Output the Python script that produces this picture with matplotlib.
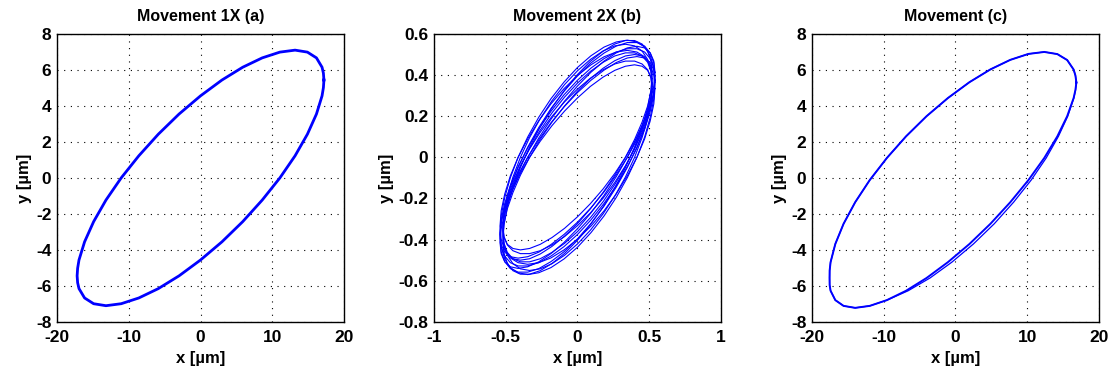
import numpy as np
import matplotlib
matplotlib.use("Agg")
import matplotlib.pyplot as plt

plt.rcParams["font.family"] = ["Liberation Sans", "DejaVu Sans"]
plt.rcParams["font.weight"] = "bold"

# ---- (a) Movement 1X : orbit points [um] ----
xa = [17.20, 17.13, 16.94, 16.16, 14.90, 13.18, 11.06, 8.60, 5.88, 2.99, 0.00,
      -2.99, -5.88, -8.60, -11.06, -13.18, -14.90, -16.16, -16.94, -17.13,
      -17.20, -17.13, -16.94, -16.16, -14.90, -13.18, -11.06, -8.60, -5.88, -2.99, 0.00,
      2.99, 5.88, 8.60, 11.06, 13.18, 14.90, 16.16, 16.94, 17.13]
ya = [5.44, 5.82, 6.15, 6.67, 6.99, 7.10, 6.99, 6.67, 6.15, 5.44, 4.56,
      3.55, 2.43, 1.23, 0.00, -1.23, -2.43, -3.55, -4.56, -5.02,
      -5.44, -5.82, -6.15, -6.67, -6.99, -7.10, -6.99, -6.67, -6.15, -5.44, -4.56,
      -3.55, -2.43, -1.23, 0.00, 1.23, 2.43, 3.55, 4.56, 5.02]

# ---- (b) Movement 2X : several revolutions [um] ----
xb_wide = [0.540, 0.532, 0.507, 0.468, 0.414, 0.347, 0.270, 0.185, 0.094, 0.000,
           -0.094, -0.185, -0.270, -0.347, -0.414, -0.468, -0.507, -0.532,
           -0.540, -0.532, -0.507, -0.468, -0.414, -0.347, -0.270, -0.185, -0.094, 0.000,
           0.094, 0.185, 0.270, 0.347, 0.414, 0.468, 0.507, 0.532]
xb_narrow = [0.520, 0.512, 0.489, 0.450, 0.398, 0.334, 0.260, 0.178, 0.090, 0.000,
             -0.090, -0.178, -0.260, -0.334, -0.398, -0.450, -0.489, -0.512,
             -0.520, -0.512, -0.489, -0.450, -0.398, -0.334, -0.260, -0.178, -0.090, 0.000,
             0.090, 0.178, 0.260, 0.334, 0.398, 0.450, 0.489, 0.512]
yb1 = [0.366, 0.437, 0.494, 0.536, 0.561, 0.570, 0.561, 0.536, 0.494, 0.437,
       0.366, 0.285, 0.195, 0.099, 0.000, -0.099, -0.195, -0.285,
       -0.366, -0.437, -0.494, -0.536, -0.561, -0.570, -0.561, -0.536, -0.494, -0.437,
       -0.366, -0.285, -0.195, -0.099, 0.000, 0.099, 0.195, 0.285]
yb2 = [0.396, 0.459, 0.507, 0.541, 0.558, 0.558, 0.541, 0.507, 0.459, 0.396,
       0.321, 0.237, 0.145, 0.049, -0.049, -0.145, -0.237, -0.321,
       -0.396, -0.459, -0.507, -0.541, -0.558, -0.558, -0.541, -0.507, -0.459, -0.396,
       -0.321, -0.237, -0.145, -0.049, 0.049, 0.145, 0.237, 0.321]
yb3 = [0.354, 0.421, 0.476, 0.517, 0.542, 0.550, 0.542, 0.517, 0.476, 0.421,
       0.354, 0.275, 0.188, 0.096, 0.000, -0.096, -0.188, -0.275,
       -0.354, -0.421, -0.476, -0.517, -0.542, -0.550, -0.542, -0.517, -0.476, -0.421,
       -0.354, -0.275, -0.188, -0.096, 0.000, 0.096, 0.188, 0.275]
yb4 = [0.375, 0.434, 0.480, 0.512, 0.528, 0.528, 0.512, 0.480, 0.434, 0.375,
       0.304, 0.224, 0.137, 0.046, -0.046, -0.137, -0.224, -0.304,
       -0.375, -0.434, -0.480, -0.512, -0.528, -0.528, -0.512, -0.480, -0.434, -0.375,
       -0.304, -0.224, -0.137, -0.046, 0.046, 0.137, 0.224, 0.304]
yb5 = [0.361, 0.418, 0.462, 0.493, 0.508, 0.508, 0.493, 0.462, 0.418, 0.361,
       0.293, 0.216, 0.132, 0.044, -0.044, -0.132, -0.216, -0.293,
       -0.361, -0.418, -0.462, -0.493, -0.508, -0.508, -0.493, -0.462, -0.418, -0.361,
       -0.293, -0.216, -0.132, -0.044, 0.044, 0.132, 0.216, 0.293]
yb6 = [0.375, 0.424, 0.461, 0.483, 0.490, 0.483, 0.461, 0.424, 0.375, 0.315,
       0.245, 0.168, 0.085, 0.000, -0.085, -0.168, -0.245, -0.315,
       -0.375, -0.424, -0.461, -0.483, -0.490, -0.483, -0.461, -0.424, -0.375, -0.315,
       -0.245, -0.168, -0.085, 0.000, 0.085, 0.168, 0.245, 0.315]
yb7 = [0.332, 0.385, 0.426, 0.454, 0.468, 0.468, 0.454, 0.426, 0.385, 0.332,
       0.270, 0.199, 0.122, 0.041, -0.041, -0.122, -0.199, -0.270,
       -0.332, -0.385, -0.426, -0.454, -0.468, -0.468, -0.454, -0.426, -0.385, -0.332,
       -0.270, -0.199, -0.122, -0.041, 0.041, 0.122, 0.199, 0.270]
yb8 = [0.345, 0.390, 0.423, 0.443, 0.450, 0.443, 0.423, 0.390, 0.345, 0.289,
       0.225, 0.154, 0.078, 0.000, -0.078, -0.154, -0.225, -0.289,
       -0.345, -0.390, -0.423, -0.443, -0.450, -0.443, -0.423, -0.390, -0.345, -0.289,
       -0.225, -0.154, -0.078, 0.000, 0.078, 0.154, 0.225, 0.289]
yb9 = [0.403, 0.467, 0.516, 0.551, 0.568, 0.568, 0.551, 0.516, 0.467, 0.403,
       0.327, 0.241, 0.148, 0.050, -0.050, -0.148, -0.241, -0.327,
       -0.403, -0.467, -0.516, -0.551, -0.568, -0.568, -0.551, -0.516, -0.467, -0.403,
       -0.327, -0.241, -0.148, -0.050, 0.050, 0.148, 0.241, 0.327]
yb10 = [0.414, 0.468, 0.508, 0.532, 0.540, 0.532, 0.508, 0.468, 0.414, 0.347,
        0.270, 0.185, 0.094, 0.000, -0.094, -0.185, -0.270, -0.347,
        -0.414, -0.468, -0.508, -0.532, -0.540, -0.532, -0.508, -0.468, -0.414, -0.347,
        -0.270, -0.185, -0.094, 0.000, 0.094, 0.185, 0.270, 0.347]
yb11 = [0.334, 0.398, 0.450, 0.489, 0.512, 0.520, 0.512, 0.489, 0.450, 0.398,
        0.334, 0.260, 0.178, 0.090, 0.000, -0.090, -0.178, -0.260,
        -0.334, -0.398, -0.450, -0.489, -0.512, -0.520, -0.512, -0.489, -0.450, -0.398,
        -0.334, -0.260, -0.178, -0.090, 0.000, 0.090, 0.178, 0.260]
yb12 = [0.383, 0.433, 0.470, 0.493, 0.500, 0.493, 0.470, 0.433, 0.383, 0.322,
        0.250, 0.171, 0.087, 0.000, -0.087, -0.171, -0.250, -0.322,
        -0.383, -0.433, -0.470, -0.493, -0.500, -0.493, -0.470, -0.433, -0.383, -0.322,
        -0.250, -0.171, -0.087, 0.000, 0.087, 0.171, 0.250, 0.322]
loops_b = [(xb_wide, yb1), (xb_wide, yb2), (xb_narrow, yb3), (xb_wide, yb4),
           (xb_narrow, yb5), (xb_wide, yb6), (xb_narrow, yb7), (xb_narrow, yb8),
           (xb_narrow, yb9), (xb_wide, yb10), (xb_wide, yb11), (xb_narrow, yb12)]

# ---- (c) Movement : orbit points [um] ----
xc1 = [16.85, 16.72, 16.47, 15.57, 14.20, 12.38, 10.17, 7.64, 4.87, 1.95, -1.05,
       -4.03, -6.89, -9.56, -11.95, -13.98, -15.60, -16.75, -17.41, -17.54,
       -17.55, -17.54, -17.41, -16.75, -15.60, -13.98, -11.95, -9.56, -6.89, -4.03, -1.05,
       1.95, 4.87, 7.64, 10.17, 12.38, 14.20, 15.57, 16.47, 16.72]
xc2 = [16.85, 16.72, 16.47, 15.57, 14.20, 12.38, 10.17, 7.64, 4.87, 1.95, -1.05,
       -4.03, -6.89, -9.56, -11.95, -13.98, -15.60, -16.75, -17.41, -17.54,
       -17.55, -17.54, -17.41, -16.75, -15.60, -13.98, -11.95, -9.56, -6.60, -3.55, -0.50,
       2.50, 5.40, 8.10, 10.55, 12.65, 14.35, 15.65, 16.50, 16.74]
yc = [5.30, 5.69, 6.02, 6.55, 6.88, 7.00, 6.89, 6.56, 6.03, 5.32, 4.44,
      3.43, 2.31, 1.11, -0.12, -1.35, -2.55, -3.67, -4.68, -5.15,
      -5.56, -5.95, -6.27, -6.79, -7.11, -7.22, -7.11, -6.79, -6.27, -5.56, -4.68,
      -3.67, -2.55, -1.35, -0.12, 1.11, 2.31, 3.43, 4.44, 4.89]

titles = ["Movement 1X (a)", "Movement 2X (b)", "Movement (c)"]
xlims = [(-20, 20), (-1, 1), (-20, 20)]
ylims = [(-8, 8), (-0.8, 0.6), (-8, 8)]
xticks = [[-20, -10, 0, 10, 20], [-1, -0.5, 0, 0.5, 1], [-20, -10, 0, 10, 20]]
yticks = [[-8, -6, -4, -2, 0, 2, 4, 6, 8],
          [-0.8, -0.6, -0.4, -0.2, 0, 0.2, 0.4, 0.6],
          [-8, -6, -4, -2, 0, 2, 4, 6, 8]]


def closed(v):
    return np.r_[v, v[:1]]


fig = plt.figure(figsize=(11.14, 3.73), dpi=100)
lefts = [0.0512, 0.3896, 0.7289]
axes = [fig.add_axes([l, 0.137, 0.2576, 0.772]) for l in lefts]

axes[0].plot(closed(xa), closed(ya), color="#0000ff", lw=2.0)
for xs, ys in loops_b:
    axes[1].plot(closed(xs), closed(ys), color="#0000ff", lw=0.8)
axes[2].plot(closed(xc1), closed(yc), color="#0000ff", lw=1.4)
axes[2].plot(closed(xc2), closed(yc), color="#0000ff", lw=0.9)

for i, ax in enumerate(axes):
    ax.set_xlim(*xlims[i])
    ax.set_ylim(*ylims[i])
    ax.set_xticks(xticks[i])
    ax.set_yticks(yticks[i])
    ax.set_xticklabels([f"{v:g}" for v in xticks[i]])
    ax.set_yticklabels([f"{v:g}" for v in yticks[i]])
    ax.tick_params(length=0, labelsize=12.5)
    ax.tick_params(axis="x", pad=6)
    ax.tick_params(axis="y", pad=4)
    ax.grid(True, color="black", linestyle=(0, (1, 5)), linewidth=0.8)
    for s in ax.spines.values():
        s.set_linewidth(1.0)
    ax.set_title(titles[i], fontsize=11.5, fontweight="bold", pad=9)
    ax.set_xlabel("x [µm]", fontsize=12, fontweight="bold", labelpad=4)
    ax.set_ylabel("y [µm]", fontsize=12, fontweight="bold", labelpad=3)

fig.savefig("out.png", dpi=100)
